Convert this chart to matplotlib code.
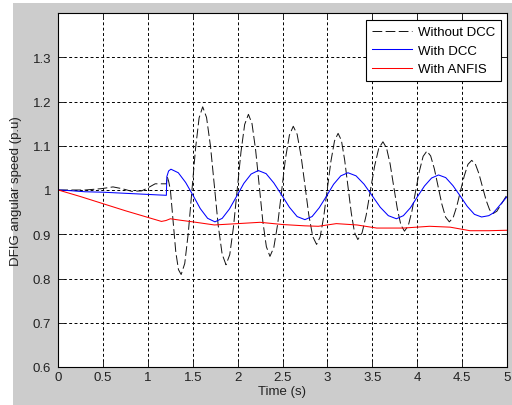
import matplotlib
matplotlib.use("Agg")
import matplotlib.pyplot as plt
from matplotlib.patches import Rectangle

# Without DCC (black dashed)
t_without = [0, 0.3, 0.48, 0.61, 0.71, 0.82, 0.93, 1.0, 1.08, 1.19, 1.205, 1.215, 1.23,
             1.25, 1.28, 1.31, 1.34, 1.37,
             1.41, 1.45, 1.49, 1.53, 1.57, 1.61,
             1.653, 1.697, 1.74, 1.783, 1.827, 1.87,
             1.912, 1.953, 1.995, 2.037, 2.078, 2.12,
             2.16, 2.20, 2.24, 2.28, 2.32, 2.36,
             2.403, 2.447, 2.49, 2.533, 2.577, 2.62,
             2.663, 2.707, 2.75, 2.793, 2.837, 2.88,
             2.92, 2.96, 3.00, 3.04, 3.08, 3.12,
             3.157, 3.193, 3.23, 3.267, 3.303, 3.34,
             3.387, 3.433, 3.48, 3.527, 3.573, 3.62,
             3.66, 3.70, 3.74, 3.78, 3.82, 3.86,
             3.902, 3.943, 3.985, 4.027, 4.068, 4.11,
             4.152, 4.193, 4.235, 4.277, 4.318, 4.36,
             4.402, 4.443, 4.485, 4.527, 4.568, 4.61,
             4.65, 4.69, 4.73, 4.77, 4.81, 4.85,
             4.89, 4.93, 4.97, 5.0]
v_without = [1.0, 1.0, 1.003, 1.007, 1.003, 0.997, 0.998, 1.005, 1.014, 1.014, 1.014, 1.03, 1.02,
             1.0, 0.93, 0.86, 0.82, 0.809,
             0.834, 0.904, 0.999, 1.093, 1.163, 1.188,
             1.164, 1.099, 1.010, 0.920, 0.855, 0.831,
             0.854, 0.916, 1.001, 1.086, 1.148, 1.171,
             1.150, 1.091, 1.011, 0.930, 0.872, 0.850,
             0.870, 0.924, 0.997, 1.071, 1.124, 1.144,
             1.126, 1.077, 1.011, 0.944, 0.895, 0.877,
             0.894, 0.940, 1.003, 1.065, 1.111, 1.128,
             1.112, 1.068, 1.008, 0.948, 0.904, 0.888,
             0.903, 0.943, 0.999, 1.054, 1.094, 1.109,
             1.095, 1.059, 1.008, 0.958, 0.921, 0.907,
             0.919, 0.952, 0.998, 1.043, 1.076, 1.088,
             1.077, 1.048, 1.008, 0.968, 0.939, 0.928,
             0.937, 0.963, 0.998, 1.032, 1.058, 1.067,
             1.059, 1.037, 1.007, 0.977, 0.955, 0.947,
             0.952, 0.965, 0.978, 0.988]

# With DCC (blue)
t_dcc = [0, 0.1, 0.3, 0.5, 0.7, 0.9, 1.1, 1.205, 1.21, 1.23, 1.256,
         1.338, 1.420, 1.502, 1.583, 1.665, 1.747,
         1.828, 1.908, 1.989, 2.069, 2.150, 2.23,
         2.317, 2.403, 2.49, 2.577, 2.663, 2.75,
         2.83, 2.91, 2.99, 3.07, 3.15, 3.23,
         3.32, 3.41, 3.50, 3.59, 3.68, 3.77,
         3.848, 3.927, 4.005, 4.083, 4.162, 4.24,
         4.32, 4.40, 4.48, 4.56, 4.64, 4.72,
         4.80, 4.85, 4.90, 4.95, 5.0]
v_dcc = [1.0, 0.999, 0.996, 0.995, 0.993, 0.991, 0.989, 0.988, 1.03, 1.043, 1.047,
         1.039, 1.017, 0.988, 0.958, 0.936, 0.928,
         0.936, 0.957, 0.986, 1.015, 1.036, 1.044,
         1.037, 1.016, 0.989, 0.961, 0.940, 0.933,
         0.940, 0.960, 0.986, 1.013, 1.032, 1.039,
         1.032, 1.013, 0.987, 0.961, 0.942, 0.935,
         0.942, 0.960, 0.985, 1.009, 1.027, 1.034,
         1.028, 1.010, 0.987, 0.963, 0.945, 0.939,
         0.942, 0.948, 0.960, 0.972, 0.984]

# With ANFIS (red)
t_anfis = [0, 0.25, 0.5, 0.75, 1.0, 1.15, 1.2, 1.25, 1.35, 1.5, 1.74, 2.0, 2.25, 2.5,
           2.75, 2.9, 3.1, 3.33, 3.55, 3.85, 4.14, 4.37, 4.59, 4.8, 5.0]
v_anfis = [1.0, 0.985, 0.969, 0.953, 0.938, 0.929, 0.931, 0.935, 0.932, 0.928, 0.921, 0.924,
           0.927, 0.922, 0.919, 0.918, 0.924, 0.921, 0.914, 0.914, 0.918, 0.916, 0.908,
           0.908, 0.909]

x_ticks = [0, 0.5, 1, 1.5, 2, 2.5, 3, 3.5, 4, 4.5, 5]
x_labels = ["0", "0.5", "1", "1.5", "2", "2.5", "3", "3.5", "4", "4.5", "5"]
y_ticks = [0.6, 0.7, 0.8, 0.9, 1.0, 1.1, 1.2, 1.3]
y_labels = ["0.6", "0.7", "0.8", "0.9", "1", "1.1", "1.2", "1.3"]

plt.rcParams["font.family"] = ["Liberation Sans", "DejaVu Sans"]
plt.rcParams["font.size"] = 9.5

fig = plt.figure(figsize=(5.12, 4.06), dpi=100, facecolor="white")
fig.patches.append(Rectangle((13 / 512, 0), 1, 1 - 4 / 406, transform=fig.transFigure,
                             facecolor="#cccccc", edgecolor="none", zorder=-1))

ax = fig.add_axes([58.3 / 512, 38 / 406, 448.4 / 512, 354 / 406])
ax.set_facecolor("white")

ax.plot(t_without, v_without, color="#111111", lw=0.7, dashes=(10, 3.5), label="Without DCC")
ax.plot(t_dcc, v_dcc, color="#0000ff", lw=0.75, label="With DCC")
ax.plot(t_anfis, v_anfis, color="#ff0000", lw=0.75, label="With ANFIS")

ax.set_xlim(0, 5)
ax.set_ylim(0.6, 1.4)
ax.set_xticks(x_ticks)
ax.set_xticklabels(x_labels)
ax.set_yticks(y_ticks)
ax.set_yticklabels(y_labels)

ax.grid(True, color="black", lw=0.7, linestyle=(0, (3, 2.5)))
ax.tick_params(direction="in", top=True, right=True, length=4, width=0.7, colors="#222222")
ax.tick_params(axis="x", pad=3)
ax.tick_params(axis="y", pad=5)
for s in ax.spines.values():
    s.set_linewidth(0.8)
    s.set_color("black")

ax.set_xlabel("Time (s)", labelpad=1, color="#222222")
ax.set_ylabel("DFIG angular speed (p.u)", labelpad=8, color="#222222")

leg = ax.legend(loc="upper right", bbox_to_anchor=(0.987, 0.980), borderaxespad=0,
                fancybox=False, framealpha=1, edgecolor="black", handlelength=3.0,
                handletextpad=0.45, labelspacing=0.48, borderpad=0.45)
leg.get_frame().set_linewidth(0.8)

fig.savefig("out.png", dpi=100)
